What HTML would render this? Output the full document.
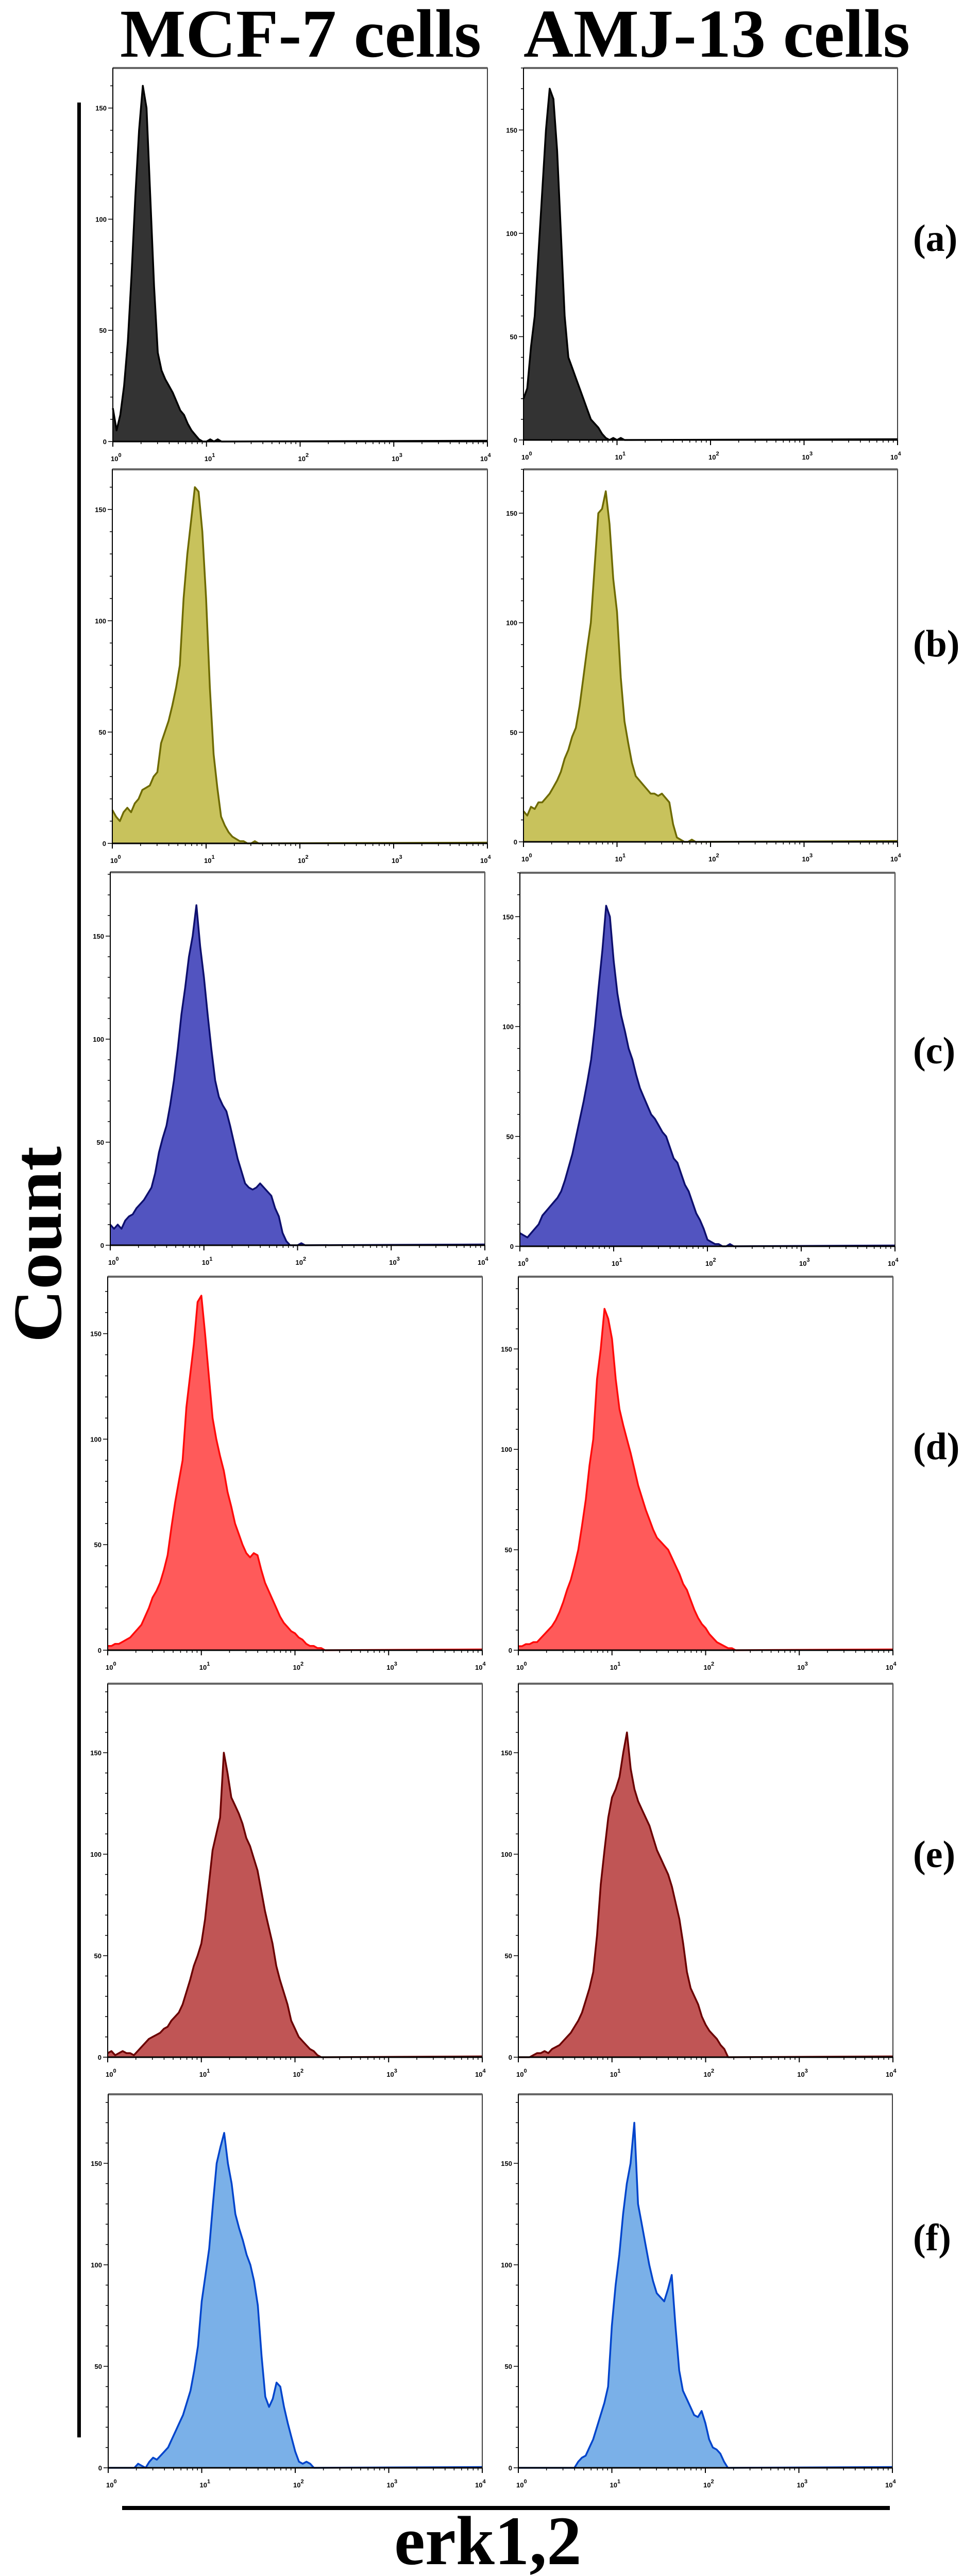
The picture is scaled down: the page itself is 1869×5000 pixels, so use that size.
<!DOCTYPE html>
<html><head><meta charset="utf-8"><style>
html,body{margin:0;padding:0;background:#fff;}
svg{display:block;}
</style></head><body>
<svg id="fig" width="1869" height="5000" viewBox="0 0 1869 5000" xmlns="http://www.w3.org/2000/svg">
<rect x="0" y="0" width="1869" height="5000" fill="#fff"/>
<text x="233" y="110" font-family="Liberation Serif, serif" font-weight="bold" font-size="133" textLength="701" lengthAdjust="spacingAndGlyphs">MCF-7 cells</text>
<text x="1016" y="110" font-family="Liberation Serif, serif" font-weight="bold" font-size="133" textLength="750" lengthAdjust="spacingAndGlyphs">AMJ-13 cells</text>
<rect x="150" y="199" width="7" height="4532" fill="#000"/>
<text transform="translate(118,2225) rotate(-90)" text-anchor="end" font-family="Liberation Serif, serif" font-weight="bold" font-size="134" textLength="381" lengthAdjust="spacingAndGlyphs">Count</text>
<rect x="237" y="4864" width="1490" height="8" fill="#000"/>
<text x="765" y="4977" font-family="Liberation Serif, serif" font-weight="bold" font-size="135">erk1,2</text>
<g id="panels"></g>
</svg>
<script>
// bins: log10 intensity positions, step 0.04 decades starting at 10^0
const binStep = 0.04;
const yTicks = [0, 50, 100, 150];
const xTickExps = [0, 1, 2, 3, 4];
const rowLabels = ['(a)', '(b)', '(c)', '(d)', '(e)', '(f)'];

const mcfA = [15,5,12,25,45,75,110,140,160,150,110,70,40,32,28,25,22,18,14,12,8,5,3,1,0,0,1,0,1,0];
const amjA = [20,25,45,60,90,120,150,170,165,140,100,60,40,35,30,25,20,15,10,8,6,3,1,0,1,0,1,0];
const mcfB = [15,12,10,14,16,14,18,20,24,25,26,30,32,45,50,55,62,70,80,110,130,145,160,158,140,110,70,40,25,12,8,5,3,2,1,1,0,0,1,0];
const amjB = [14,12,16,15,18,18,20,22,25,28,32,38,42,48,52,62,75,88,100,125,150,152,160,145,120,105,75,55,45,36,30,28,26,24,22,22,21,22,20,18,8,2,1,0,0,1,0];
const mcfC = [10,8,10,8,12,14,15,18,20,22,25,28,35,45,52,58,68,80,95,112,125,140,150,165,145,130,112,95,80,72,68,65,58,50,42,36,30,28,27,28,30,28,26,24,18,14,6,2,0,0,0,1,0];
const amjC = [6,5,4,6,8,10,14,16,18,20,22,25,30,36,42,50,58,66,75,85,100,118,135,155,150,130,115,105,98,90,85,78,72,68,64,60,58,55,52,50,45,40,38,33,28,25,20,15,12,8,3,2,1,1,0,0,1,0];
const mcfD = [2,2,3,3,4,5,6,8,10,12,16,20,25,28,32,38,45,58,70,80,90,115,130,145,165,168,150,130,110,100,92,85,75,68,60,55,50,46,44,46,45,38,32,28,24,20,16,13,11,9,8,6,5,3,2,2,1,1,0];
const amjD = [2,2,3,3,4,4,6,8,10,12,15,19,24,30,35,42,50,62,75,92,105,135,150,170,165,155,135,120,112,105,98,90,82,76,70,65,60,56,54,52,50,46,42,38,33,30,25,20,16,13,11,8,6,4,3,2,1,1,0];
const mcfE = [2,3,1,2,3,2,2,1,3,5,7,9,10,11,12,14,15,18,20,22,26,32,38,45,50,56,68,85,102,110,118,150,140,128,124,120,115,108,104,98,92,82,72,64,56,45,38,32,26,18,14,10,8,6,4,3,1,0];
const amjE = [0,0,0,0,1,2,2,3,2,4,5,6,8,10,12,15,18,22,28,34,42,60,85,102,118,128,132,138,150,160,142,132,126,122,118,114,108,102,98,94,90,84,76,68,56,42,34,30,26,20,16,13,11,9,6,4,0];
const mcfF = [0,0,0,0,0,0,0,0,2,1,0,3,5,4,6,8,10,14,18,22,26,32,38,48,60,82,95,108,130,150,158,165,150,140,125,118,112,105,100,92,80,55,35,30,34,42,40,30,22,15,8,3,2,3,2,0];
const amjF = [0,0,0,0,0,0,0,0,0,0,0,0,0,0,0,0,3,5,6,10,14,20,26,32,40,70,90,105,125,140,150,170,130,120,110,100,92,86,84,82,88,95,70,48,38,34,30,26,25,28,22,14,10,9,7,3,0];

const panels = [
 {row:0,name:'mcf7-a',s:mcfA,x:219,y:132,w:727,h:725,ymax:168,fill:'#333333',stroke:'#000000'},
 {row:0,name:'amj13-a',s:amjA,x:1016,y:132,w:726,h:722,ymax:180,fill:'#333333',stroke:'#000000'},
 {row:1,name:'mcf7-b',s:mcfB,x:218,y:911,w:728,h:726,ymax:168,fill:'#c8c25c',stroke:'#6e6a00'},
 {row:1,name:'amj13-b',s:amjB,x:1016,y:911,w:726,h:723,ymax:170,fill:'#c8c25c',stroke:'#6e6a00'},
 {row:2,name:'mcf7-c',s:mcfC,x:214,y:1693,w:727,h:724,ymax:181,fill:'#5254c0',stroke:'#0d0f6e'},
 {row:2,name:'amj13-c',s:amjC,x:1009,y:1694,w:728,h:725,ymax:170,fill:'#5254c0',stroke:'#0d0f6e'},
 {row:3,name:'mcf7-d',s:mcfD,x:209,y:2478,w:727,h:725,ymax:177,fill:'#ff5a5a',stroke:'#ff0a0a'},
 {row:3,name:'amj13-d',s:amjD,x:1006,y:2478,w:727,h:725,ymax:186,fill:'#ff5a5a',stroke:'#ff0a0a'},
 {row:4,name:'mcf7-e',s:mcfE,x:209,y:3268,w:727,h:725,ymax:184,fill:'#c05555',stroke:'#6b0000'},
 {row:4,name:'amj13-e',s:amjE,x:1006,y:3268,w:727,h:725,ymax:184,fill:'#c05555',stroke:'#6b0000'},
 {row:5,name:'mcf7-f',s:mcfF,x:210,y:4065,w:726,h:725,ymax:184,fill:'#7ab0e8',stroke:'#0044cc'},
 {row:5,name:'amj13-f',s:amjF,x:1006,y:4065,w:726,h:725,ymax:184,fill:'#7ab0e8',stroke:'#0044cc'}
];
const labelY = [462,1249,2039,2807,3599,4343];

const NS = 'http://www.w3.org/2000/svg';
const root = document.getElementById('panels');
function mk(tag, attrs, parent){
  const e = document.createElementNS(NS, tag);
  for (const k in attrs) e.setAttribute(k, attrs[k]);
  (parent||root).appendChild(e);
  return e;
}
panels.forEach(p => {
  const g = mk('g', {});
  
  
  const xs = v => p.x + (v / 4) * p.w;
  const ys = c => p.y + p.h - (c / p.ymax) * p.h;
  const base = p.y + p.h;
  let pts = [];
  for (let i = 0; i < p.s.length; i++) pts.push(xs(i * binStep).toFixed(1) + ',' + ys(p.s[i]).toFixed(1));
  const lastX = xs((p.s.length - 1) * binStep);
  const area = mk('polygon', {points: xs(0) + ',' + base + ' ' + pts.join(' ') + ' ' + lastX.toFixed(1) + ',' + base, fill: p.fill, stroke: 'none'}, g);
  
  
  const line = mk('polyline', {points: pts.join(' ') + ' ' + (p.x + p.w) + ',' + (base - 1.5), fill: 'none', stroke: p.stroke, 'stroke-width': 3.5, 'stroke-linejoin': 'round'}, g);
  
  
  const fr = mk('rect', {x: p.x, y: p.y, width: p.w, height: p.h, fill: 'none', stroke: '#000', 'stroke-width': 1.5}, g);
  
  
  const tb = mk('line', {x1: p.x, y1: p.y, x2: p.x + p.w, y2: p.y, stroke: '#666', 'stroke-width': 4}, g);
  
  
  const xa = mk('line', {x1: p.x, y1: base, x2: p.x + p.w, y2: base, stroke: '#000', 'stroke-width': 3}, g);
  
  
  const ya = mk('line', {x1: p.x, y1: p.y, x2: p.x, y2: base, stroke: '#000', 'stroke-width': 2}, g);
  
  
  for (let c = 0; c <= p.ymax; c += 10) {
    const major = yTicks.indexOf(c) >= 0;
    mk('line', {x1: p.x - (major ? 9 : 5), y1: ys(c), x2: p.x, y2: ys(c), stroke: '#000', 'stroke-width': 1.5}, g);
  }
  yTicks.forEach(c => {
    const t = mk('text', {x: p.x - 12, y: ys(c) + 5, 'text-anchor': 'end', 'font-family': 'Liberation Sans, sans-serif', 'font-weight': 'bold', 'font-size': 13}, g);
    
    
    t.textContent = c;
  });
  xTickExps.forEach(e => {
    mk('line', {x1: xs(e), y1: base, x2: xs(e), y2: base + 10, stroke: '#000', 'stroke-width': 2}, g);
    if (e < 4) for (let m = 2; m < 10; m++) {
      const xv = xs(e + Math.log10(m));
      mk('line', {x1: xv, y1: base, x2: xv, y2: base + 5, stroke: '#000', 'stroke-width': 1.5}, g);
    }
    const t = mk('text', {x: xs(e) - (e === 4 ? 14 : 4), y: base + 38, 'font-family': 'Liberation Sans, sans-serif', 'font-weight': 'bold', 'font-size': 13}, g);
    
    
    t.textContent = '10';
    const sup = mk('tspan', {dy: -8, 'font-size': 11}, t);
    sup.textContent = e;
  });
});
rowLabels.forEach((l, i) => {
  const t = mk('text', {x: 1772, y: labelY[i] + 25, 'font-family': 'Liberation Serif, serif', 'font-weight': 'bold', 'font-size': 74}, root);
  
  
  t.textContent = l;
});
</script>
</body></html>
